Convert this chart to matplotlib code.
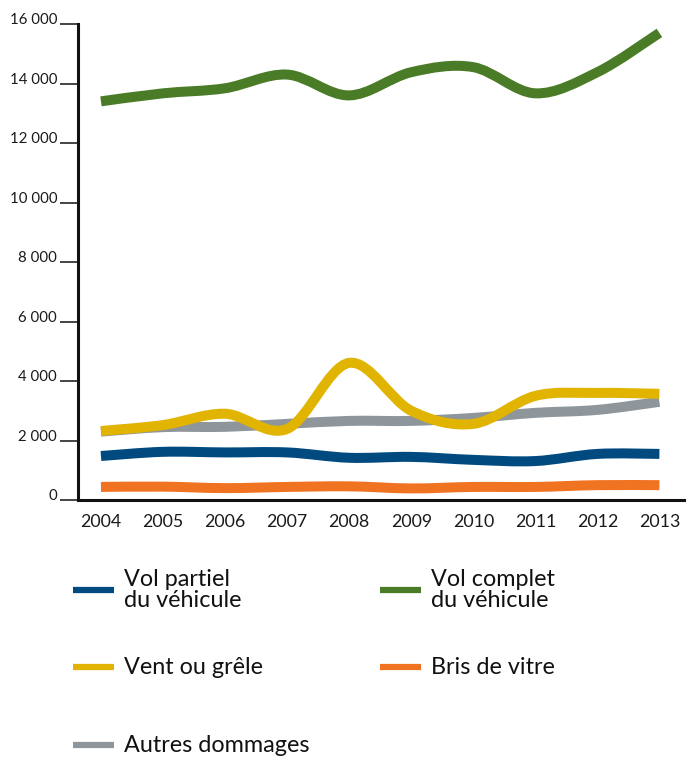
import matplotlib
matplotlib.use("Agg")
import matplotlib.pyplot as plt
from matplotlib.path import Path
from matplotlib.patches import PathPatch
from matplotlib.lines import Line2D
import numpy as np

plt.rcParams['font.family'] = ['Lato', 'DejaVu Sans']

years = [2004, 2005, 2006, 2007, 2008, 2009, 2010, 2011, 2012, 2013]

vol_partiel = [1480, 1620, 1600, 1600, 1420, 1450, 1350, 1310, 1550, 1550]
vol_complet = [13400, 13670, 13840, 14300, 13600, 14380, 14550, 13670, 14380, 15700]
vent_grele = [2320, 2520, 2900, 2390, 4610, 3000, 2560, 3500, 3600, 3570]
bris_vitre = [440, 450, 400, 440, 460, 390, 440, 440, 500, 500]
autres = [2300, 2450, 2460, 2560, 2660, 2660, 2760, 2930, 3030, 3300]

series = [
    ("Vol partiel\ndu véhicule", vol_partiel, "#004a80"),
    ("Vol complet\ndu véhicule", vol_complet, "#4a7c28"),
    ("Vent ou grêle", vent_grele, "#e0b400"),
    ("Bris de vitre", bris_vitre, "#f07322"),
    ("Autres dommages", autres, "#8e969c"),
]

yticks = [0, 2000, 4000, 6000, 8000, 10000, 12000, 14000, 16000]
ytick_labels = ["0", "2 000", "4 000", "6 000", "8 000", "10 000", "12 000", "14 000", "16 000"]


def smooth_path(xs, ys, t=0.5):
    # cubic bezier through every point (catmull-rom tangents)
    xs = np.asarray(xs, float)
    ys = np.asarray(ys, float)
    n = len(xs)
    verts = [(xs[0], ys[0])]
    codes = [Path.MOVETO]
    for i in range(n - 1):
        p0 = np.array([xs[max(i - 1, 0)], ys[max(i - 1, 0)]])
        p1 = np.array([xs[i], ys[i]])
        p2 = np.array([xs[i + 1], ys[i + 1]])
        p3 = np.array([xs[min(i + 2, n - 1)], ys[min(i + 2, n - 1)]])
        c1 = p1 + (p2 - p0) * t / 3
        c2 = p2 - (p3 - p1) * t / 3
        verts += [tuple(c1), tuple(c2), tuple(p2)]
        codes += [Path.CURVE4] * 3
    return Path(verts, codes)


fig = plt.figure(figsize=(6.94, 7.62), dpi=100)
ax = fig.add_axes([0.1124, 0.3438, 0.8735, 0.6247])

# drawing order: small series first, headline ones on top
for idx in [3, 0, 4, 2, 1]:
    label, vals, col = series[idx]
    patch = PathPatch(smooth_path(years, vals), facecolor='none', edgecolor=col,
                      lw=7.2, capstyle='butt', joinstyle='round')
    ax.add_patch(patch)

ax.set_xlim(2003.63, 2013.4)
ax.set_ylim(0, 16000)

for s in ['top', 'right']:
    ax.spines[s].set_visible(False)
ax.spines['left'].set_linewidth(2.2)
ax.spines['bottom'].set_linewidth(2.2)
ax.spines['left'].set_color('#111111')
ax.spines['bottom'].set_color('#111111')

ax.set_yticks(yticks)
ax.set_yticklabels(ytick_labels)
ax.tick_params(axis='y', length=13, width=1.4, color='#444444', pad=2,
               labelsize=10.8, labelcolor='#1a1a1a')
for lbl in ax.get_yticklabels():
    lbl.set_va('baseline')

ax.set_xticks(years)
ax.set_xticklabels([str(y) for y in years])
ax.tick_params(axis='x', length=0, pad=10, labelsize=12.8, labelcolor='#1a1a1a')

# legend, laid out by hand in two columns
legend_pos = [(73, 590), (380, 590), (73, 667), (380, 667), (73, 745)]
W, H = 694.0, 762.0
for (label, vals, col), (px, py) in zip(series, legend_pos):
    fy = 1 - py / H
    fig.add_artist(Line2D([px / W, (px + 41) / W], [fy, fy], color=col, lw=4.5,
                          solid_capstyle='butt', transform=fig.transFigure))
    fig.text((px + 51) / W, fy, label, fontsize=16.8, color='#111111',
             va='center', ha='left', linespacing=0.98)

fig.savefig("out.png", dpi=100)
